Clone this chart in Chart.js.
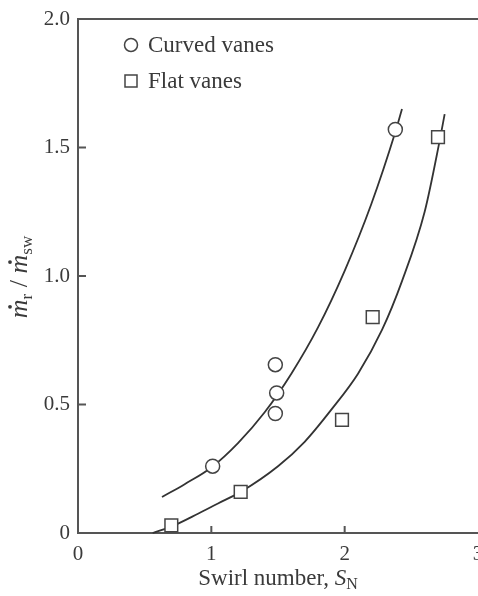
<!DOCTYPE html>
<html>
<head>
<meta charset="utf-8">
<script src="https://cdn.jsdelivr.net/npm/chart.js@4.4.1/dist/chart.umd.min.js"></script>
<style>
  body { margin: 0; overflow: hidden; background: #fff; }
  #wrap { position: relative; width: 520px; height: 596px; }
</style>
</head>
<body>
<div id="wrap"><canvas id="chart"></canvas></div>
<script>
// measured points
const curvedX = [1.01, 1.48, 1.49, 1.48, 2.38];
const curvedY = [0.26, 0.655, 0.545, 0.465, 1.57];
const flatX = [0.70, 1.22, 1.98, 2.21, 2.70];
const flatY = [0.03, 0.16, 0.44, 0.84, 1.54];

// fitted curves
const curvedFitX = [0.63, 0.8, 1.0, 1.2, 1.4, 1.6, 1.8, 2.0, 2.2, 2.38, 2.43];
const curvedFitY = [0.14, 0.19, 0.255, 0.35, 0.47, 0.62, 0.80, 1.02, 1.28, 1.56, 1.65];
const flatFitX = [0.56, 0.7, 0.9, 1.05, 1.22, 1.5, 1.7, 1.9, 2.1, 2.28, 2.43, 2.6, 2.71, 2.75];
const flatFitY = [0.0, 0.025, 0.075, 0.115, 0.16, 0.26, 0.355, 0.48, 0.62, 0.79, 0.98, 1.25, 1.52, 1.63];

const xTicks = ["0", "1", "2", "3"];
const yTicks = ["0", "0.5", "1.0", "1.5", "2.0"];
const legendLabels = ["Curved vanes", "Flat vanes"];

const ink = "#3a3a3a";
const serif = "'Liberation Serif', 'DejaVu Serif', serif";

function pts(xs, ys) {
  return xs.map((x, i) => ({ x: x, y: ys[i] }));
}

// draws inner ticks, top frame, axis titles and the legend
const extras = {
  id: "extras",
  afterDraw(chart) {
    const ctx = chart.ctx;
    const a = chart.chartArea;
    const sx = chart.scales.x;
    const sy = chart.scales.y;
    ctx.save();
    ctx.strokeStyle = "#555";
    ctx.lineWidth = 2;
    ctx.beginPath();
    ctx.moveTo(a.left - 1, a.top);
    ctx.lineTo(a.right + 10, a.top);
    [1, 2].forEach((v) => {
      const px = sx.getPixelForValue(v);
      ctx.moveTo(px, a.bottom);
      ctx.lineTo(px, a.bottom - 7);
    });
    [0.5, 1, 1.5].forEach((v) => {
      const py = sy.getPixelForValue(v);
      ctx.moveTo(a.left, py);
      ctx.lineTo(a.left + 8, py);
    });
    ctx.stroke();

    ctx.fillStyle = ink;
    ctx.textBaseline = "alphabetic";

    // x title
    const parts = [
      ["Swirl number, ", "23px " + serif, 0],
      ["S", "italic 23px " + serif, 0],
      ["N", "16px " + serif, 4]
    ];
    let w = 0;
    parts.forEach((p) => { ctx.font = p[1]; w += ctx.measureText(p[0]).width; });
    let x = (a.left + a.right) / 2 - w / 2;
    parts.forEach((p) => {
      ctx.font = p[1];
      ctx.fillText(p[0], x, 585 + p[2]);
      x += ctx.measureText(p[0]).width;
    });

    // y title (rotated)
    ctx.save();
    ctx.translate(27, 277);
    ctx.rotate(-Math.PI / 2);
    const yparts = [
      ["m", "italic 26px " + serif, 0, true],
      ["r", "17px " + serif, 5, false],
      [" / ", "26px " + serif, 0, false],
      ["m", "italic 26px " + serif, 0, true],
      ["sw", "17px " + serif, 5, false]
    ];
    w = 0;
    yparts.forEach((p) => { ctx.font = p[1]; w += ctx.measureText(p[0]).width; });
    x = -w / 2;
    yparts.forEach((p) => {
      ctx.font = p[1];
      const pw = ctx.measureText(p[0]).width;
      ctx.fillText(p[0], x, p[2]);
      if (p[3]) {
        ctx.beginPath();
        ctx.arc(x + pw / 2 + 2, -17, 1.9, 0, Math.PI * 2);
        ctx.fill();
      }
      x += pw;
    });
    ctx.restore();

    // legend
    ctx.strokeStyle = "#444";
    ctx.lineWidth = 1.5;
    ctx.fillStyle = "#fff";
    ctx.beginPath();
    ctx.arc(131, 45, 6.5, 0, Math.PI * 2);
    ctx.fill();
    ctx.stroke();
    ctx.fillRect(125, 75, 12, 12);
    ctx.strokeRect(125, 75, 12, 12);
    ctx.fillStyle = ink;
    ctx.font = "23px " + serif;
    ctx.textBaseline = "middle";
    ctx.fillText(legendLabels[0], 148, 46);
    ctx.fillText(legendLabels[1], 148, 82);
    ctx.restore();
  }
};

new Chart(document.getElementById("chart"), {
  type: "scatter",
  data: {
    datasets: [
      {
        data: pts(curvedFitX, curvedFitY),
        showLine: true,
        pointRadius: 0,
        borderColor: "#333",
        borderWidth: 1.8,
        cubicInterpolationMode: "monotone",
        order: 3
      },
      {
        data: pts(flatFitX, flatFitY),
        showLine: true,
        pointRadius: 0,
        borderColor: "#333",
        borderWidth: 1.8,
        cubicInterpolationMode: "monotone",
        order: 3
      },
      {
        label: legendLabels[0],
        data: pts(curvedX, curvedY),
        pointStyle: "circle",
        pointRadius: 7,
        pointBorderWidth: 1.5,
        pointBorderColor: "#444",
        pointBackgroundColor: "#fff",
        order: 1
      },
      {
        label: legendLabels[1],
        data: pts(flatX, flatY),
        pointStyle: "rect",
        pointRadius: 9,
        pointBorderWidth: 1.5,
        pointBorderColor: "#444",
        pointBackgroundColor: "#fff",
        order: 1
      }
    ]
  },
  options: {
    responsive: true,
    maintainAspectRatio: false,
    animation: false,
    clip: false,
    layout: { padding: { left: 0, top: 19, right: 42, bottom: 0 } },
    plugins: { legend: { display: false }, tooltip: { enabled: false } },
    scales: {
      x: {
        type: "linear",
        min: 0,
        max: 3,
        afterFit: (s) => { s.height = 63; },
        afterBuildTicks: (s) => { s.ticks = xTicks.map((t) => ({ value: Number(t) })); },
        grid: { display: false },
        border: { display: true, color: "#555", width: 2 },
        ticks: {
          padding: 1,
          color: ink,
          font: { family: serif, size: 21 },
          callback: (v, i) => xTicks[i]
        }
      },
      y: {
        type: "linear",
        min: 0,
        max: 2,
        afterFit: (s) => { s.width = 78; },
        afterBuildTicks: (s) => { s.ticks = yTicks.map((t) => ({ value: Number(t) })); },
        grid: { display: false },
        border: { display: true, color: "#555", width: 2 },
        ticks: {
          padding: 0,
          color: ink,
          font: { family: serif, size: 21 },
          callback: (v, i) => yTicks[i]
        }
      }
    }
  },
  plugins: [extras]
});
</script>
</body>
</html>
